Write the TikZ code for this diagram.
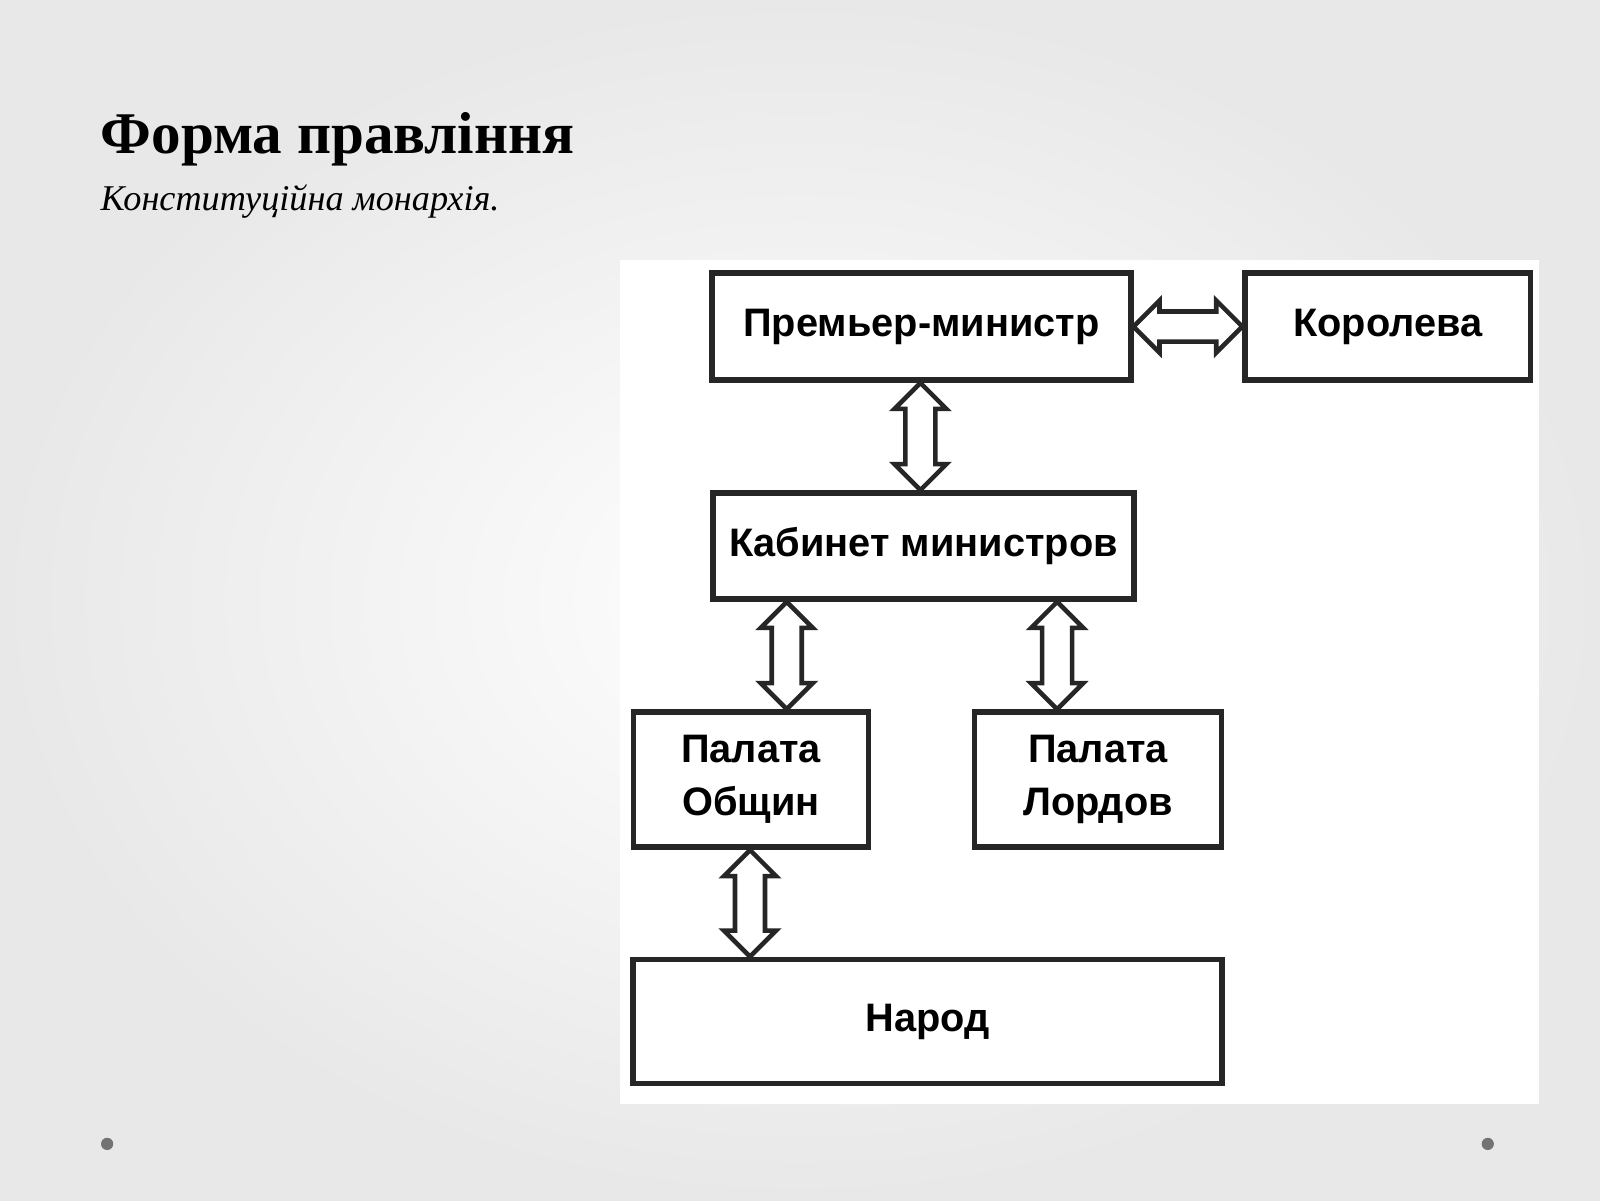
\documentclass[tikz,border=0pt]{standalone}
\usepackage{fontspec}
\setmainfont{Liberation Serif}
\setsansfont{Liberation Sans}
\usetikzlibrary{calc}

\tikzset{
  box/.style={draw=black!85,line width=1.6pt,minimum width=#1,inner sep=2pt,
    font=\sffamily\bfseries\fontsize{11.3}{15}\selectfont,align=center},
  blk/.style={draw=black!85,line width=1.3pt,fill=white,line join=miter}
}
% hollow block double arrows: vertical and horizontal
\newcommand{\varrow}[2]{\draw[blk] let \p1=(#1), \p2=(#2) in
  (\x1,\y1) -- (\x1+0.26cm,\y1-0.26cm) -- (\x1+0.15cm,\y1-0.26cm)
  -- (\x1+0.15cm,\y2+0.26cm) -- (\x1+0.26cm,\y2+0.26cm) -- (\x1,\y2)
  -- (\x1-0.26cm,\y2+0.26cm) -- (\x1-0.15cm,\y2+0.26cm)
  -- (\x1-0.15cm,\y1-0.26cm) -- (\x1-0.26cm,\y1-0.26cm) -- cycle;}
\newcommand{\harrow}[2]{\draw[blk] let \p1=(#1), \p2=(#2) in
  (\x1,\y1) -- (\x1+0.26cm,\y1+0.26cm) -- (\x1+0.26cm,\y1+0.15cm)
  -- (\x2-0.26cm,\y1+0.15cm) -- (\x2-0.26cm,\y1+0.26cm) -- (\x2,\y1)
  -- (\x2-0.26cm,\y1-0.26cm) -- (\x2-0.26cm,\y1-0.15cm)
  -- (\x1+0.26cm,\y1-0.15cm) -- (\x1+0.26cm,\y1-0.26cm) -- cycle;}

\begin{document}
\begin{tikzpicture}[x=0.0102cm,y=-0.0102cm]
  \shade[inner color=white,outer color=black!9] (0,0) rectangle (1568,1176);
  \useasboundingbox (0,0) rectangle (1568,1176);
  \fill[white] (608,255) rectangle (1508,1082);

  \node[anchor=base west,inner sep=0pt,font=\bfseries\fontsize{16.8}{20}\selectfont] (title) at (98,150) {Форма правління};
  \node[anchor=base west,inner sep=0pt,font=\itshape\fontsize{10.3}{12}\selectfont] (sub) at (98,206) {Конституційна монархія.};

  \node[box=4.18cm,minimum height=1.07cm] (prem) at (903,320) {Премьер-министр};
  \node[box=2.85cm,minimum height=1.07cm] (queen) at (1360,320) {Королева};
  \node[box=4.21cm,minimum height=1.06cm] (cab) at (905,535) {Кабинет министров};
  \node[box=2.35cm,minimum height=1.35cm] (comm) at (736,764) {Палата\\Общин};
  \node[box=2.47cm,minimum height=1.35cm] (lords) at (1076,764) {Палата\\Лордов};
  \node[box=5.88cm,minimum height=1.24cm] (people) at (909,1001) {Народ};

  \coordinate (a1) at (prem.south -| 902,0);
  \coordinate (a2) at (cab.north -| 902,0);
  \coordinate (b1) at (cab.south -| 771,0);
  \coordinate (b2) at (comm.north -| 771,0);
  \coordinate (c1) at (cab.south -| 1036,0);
  \coordinate (c2) at (lords.north -| 1036,0);
  \coordinate (d1) at (comm.south -| 735,0);
  \coordinate (d2) at (people.north -| 735,0);
  \varrow{a1}{a2}
  \varrow{b1}{b2}
  \varrow{c1}{c2}
  \varrow{d1}{d2}
  \harrow{prem.east}{queen.west}

  \fill[black!55] (105,1121) circle (6) (1458,1121) circle (6);
\end{tikzpicture}
\end{document}
